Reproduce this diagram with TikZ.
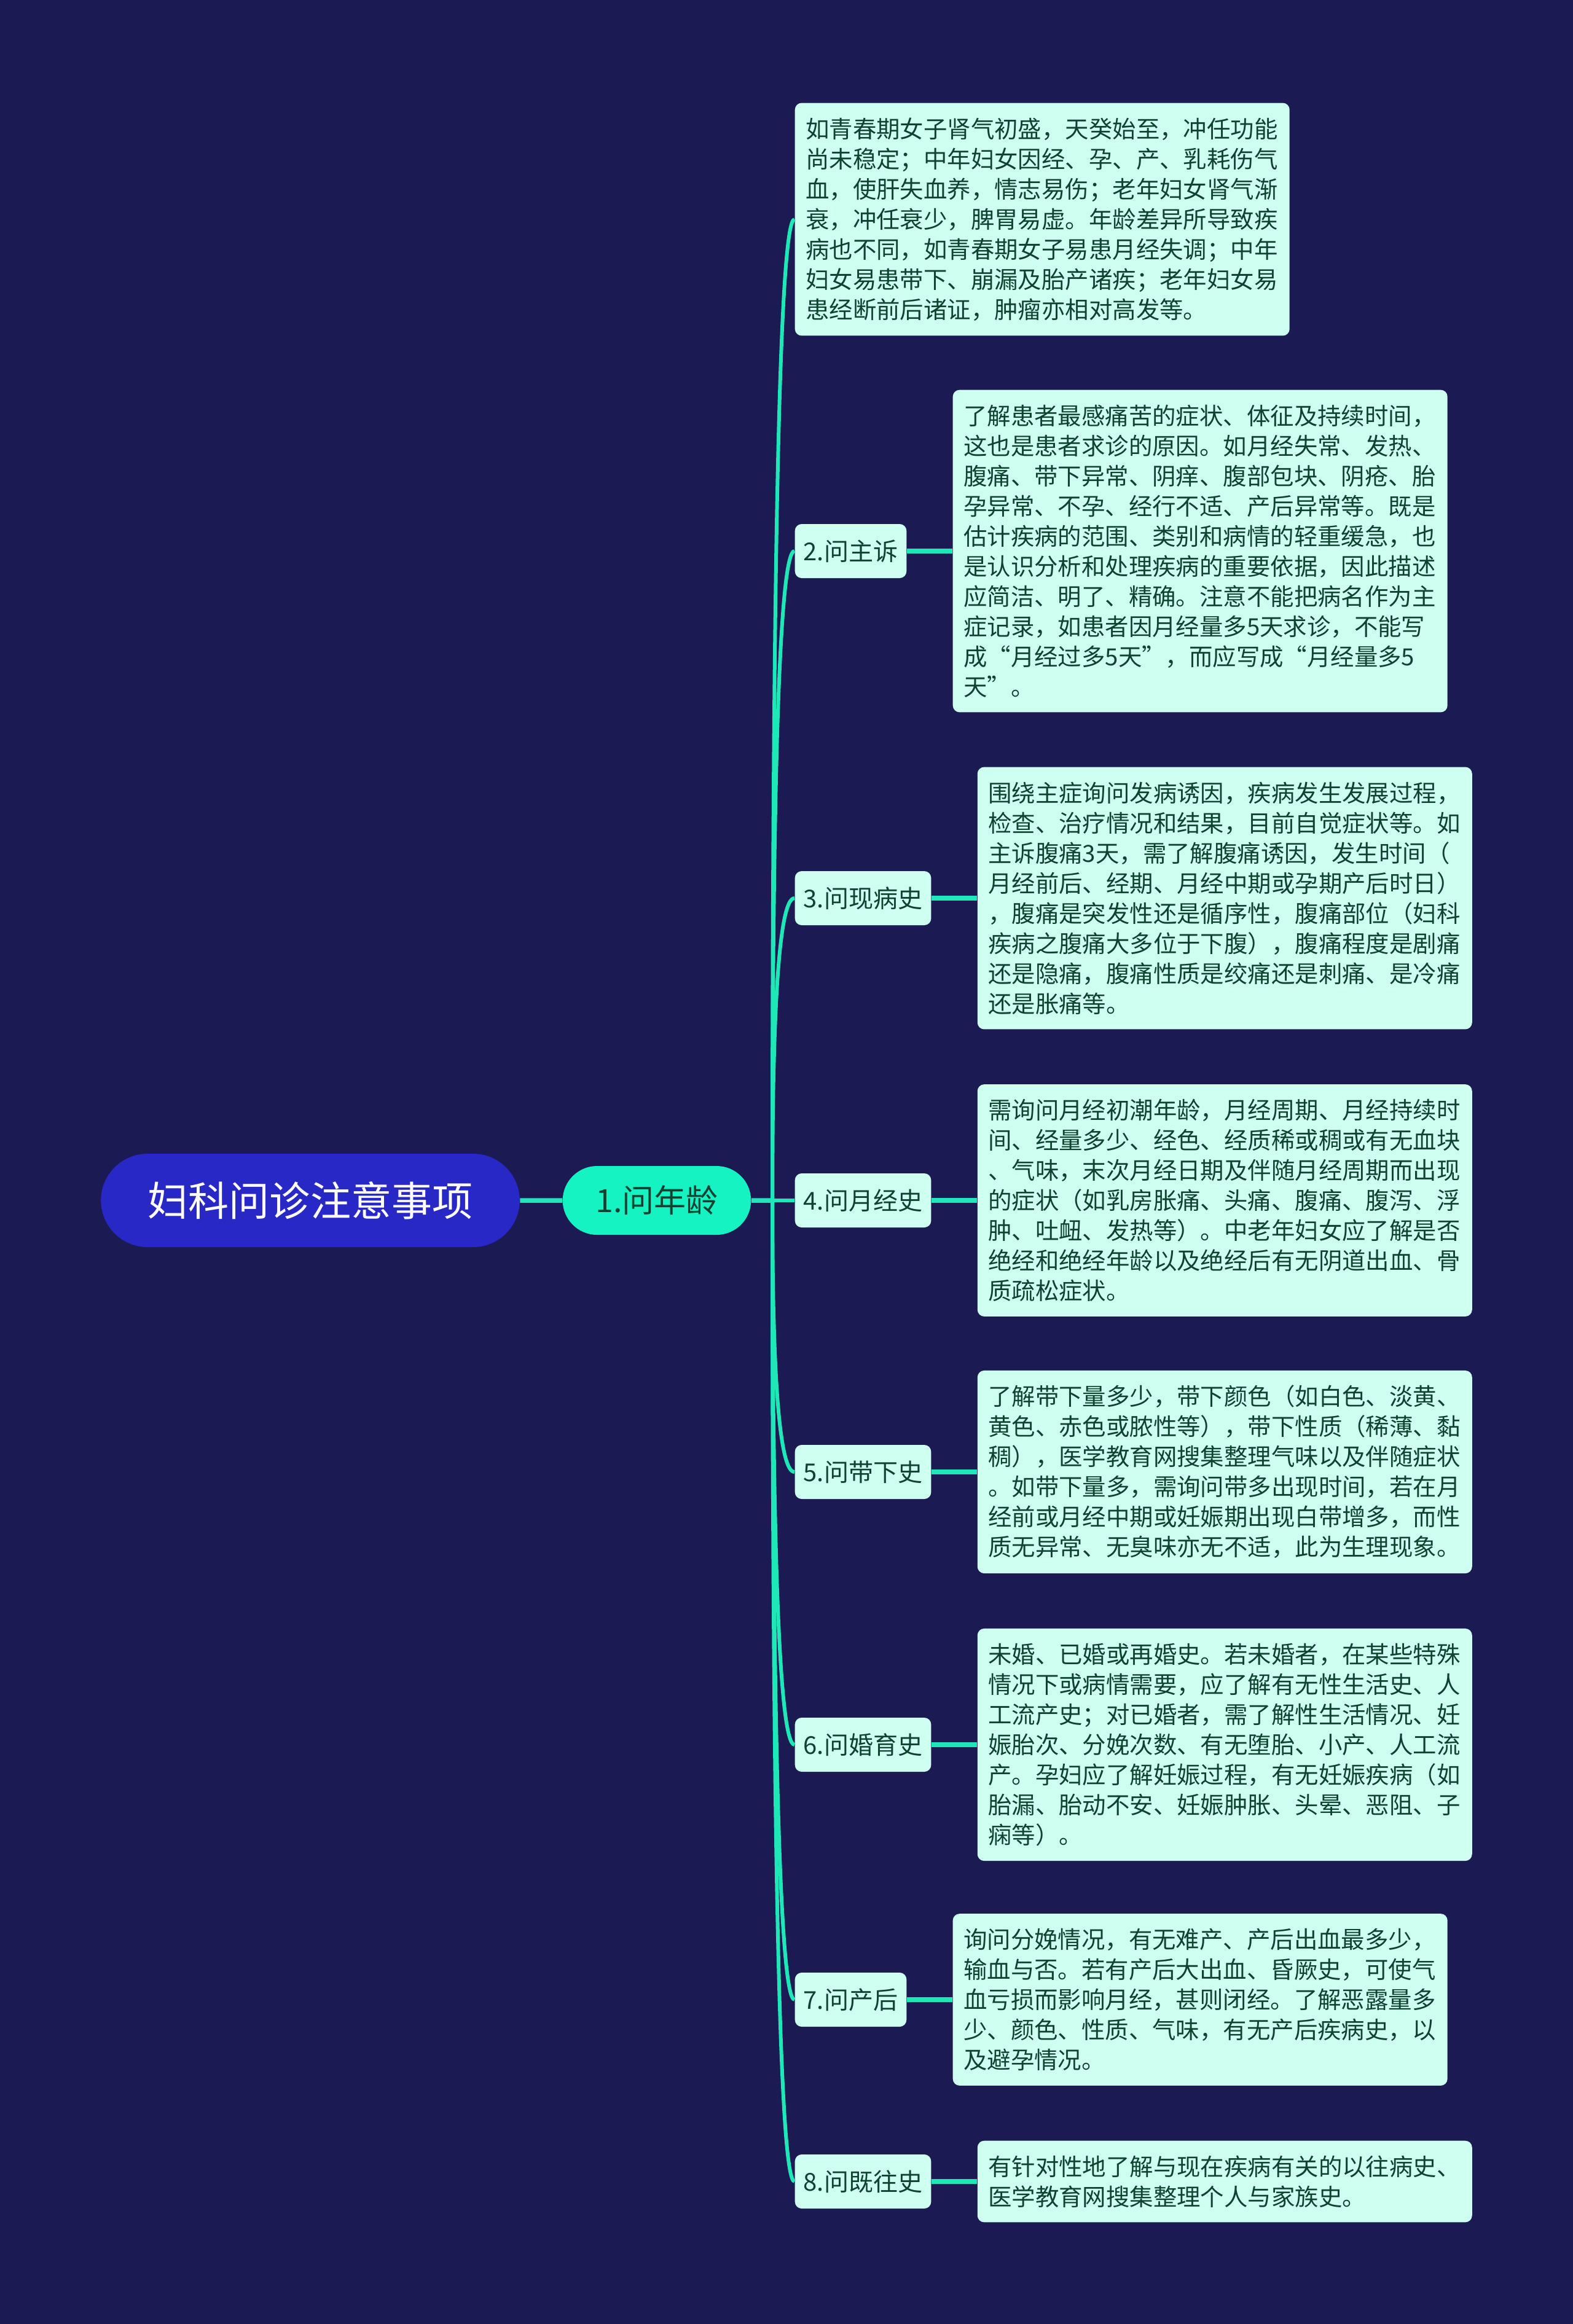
\documentclass[tikz,border=0pt]{standalone}
\usepackage{fontspec}
\setmainfont{Noto Sans CJK SC}
\usetikzlibrary{positioning,calc,shapes.misc}
\definecolor{NightSky}{RGB}{27,26,82}
\definecolor{RootBlue}{RGB}{40,40,198}
\definecolor{AquaLine}{RGB}{30,232,184}
\definecolor{AquaFill}{RGB}{22,243,194}
\definecolor{MintFill}{RGB}{206,255,240}
\definecolor{InkGreen}{RGB}{16,66,50}
\tikzset{
  rootbox/.style={rounded rectangle,fill=RootBlue,text=white,
                  minimum width=7.05cm,minimum height=1.52cm,
                  font=\fontsize{18.8}{22}\selectfont},
  agebox/.style={rounded rectangle,fill=AquaFill,text=InkGreen,
                 minimum width=3.3cm,minimum height=1.12cm,
                 font=\fontsize{14.8}{18}\selectfont},
  tagbox/.style={rectangle,rounded corners=0.11cm,fill=MintFill,text=InkGreen,
                 minimum height=0.88cm,inner xsep=0.14cm,
                 font=\fontsize{11.4}{14}\selectfont},
  notebox/.style={rectangle,rounded corners=0.11cm,fill=MintFill,text=InkGreen,
                  text width=7.70cm,align=left,inner xsep=0.175cm,inner ysep=0.24cm,
                  font=\fontsize{10.93}{13.95}\selectfont},
  trunk/.style={AquaLine,line width=0.075cm},
  bough/.style={AquaLine,line width=0.06cm},
}

\begin{document}
\begin{tikzpicture}[node distance=0.74cm]
\fill[NightSky] (0,0) rectangle (25.6,-37.83);

\node[rootbox] (root) at (5.05,-19.54) {妇科问诊注意事项};
\node[agebox] (age) at (10.69,-19.54) {1.问年龄};
\coordinate (hub) at (12.57,-19.54);

\node[notebox, anchor=west] (ageinfo) at (12.93,-3.57) {如青春期女子肾气初盛，天癸始至，冲任功能\\尚未稳定；中年妇女因经、孕、产、乳耗伤气\\血，使肝失血养，情志易伤；老年妇女肾气渐\\衰，冲任衰少，脾胃易虚。年龄差异所导致疾\\病也不同，如青春期女子易患月经失调；中年\\妇女易患带下、崩漏及胎产诸疾；老年妇女易\\患经断前后诸证，肿瘤亦相对高发等。};

\node[tagbox, anchor=west] (plaint) at (12.93,-8.97) {2.问主诉};
\node[notebox, right=of plaint] (plaintinfo) {了解患者最感痛苦的症状、体征及持续时间，\\这也是患者求诊的原因。如月经失常、发热、\\腹痛、带下异常、阴痒、腹部包块、阴疮、胎\\孕异常、不孕、经行不适、产后异常等。既是\\估计疾病的范围、类别和病情的轻重缓急，也\\是认识分析和处理疾病的重要依据，因此描述\\应简洁、明了、精确。注意不能把病名作为主\\症记录，如患者因月经量多5天求诊，不能写\\成“月经过多5天”，而应写成“月经量多5\\天”。};

\node[tagbox, anchor=west] (present) at (12.93,-14.62) {3.问现病史};
\node[notebox, right=of present] (presentinfo) {围绕主症询问发病诱因，疾病发生发展过程，\\检查、治疗情况和结果，目前自觉症状等。如\\主诉腹痛3天，需了解腹痛诱因，发生时间（\\月经前后、经期、月经中期或孕期产后时日）\\，腹痛是突发性还是循序性，腹痛部位（妇科\\疾病之腹痛大多位于下腹），腹痛程度是剧痛\\还是隐痛，腹痛性质是绞痛还是刺痛、是冷痛\\还是胀痛等。};

\node[tagbox, anchor=west] (menses) at (12.93,-19.54) {4.问月经史};
\node[notebox, right=of menses] (mensesinfo) {需询问月经初潮年龄，月经周期、月经持续时\\间、经量多少、经色、经质稀或稠或有无血块\\、气味，末次月经日期及伴随月经周期而出现\\的症状（如乳房胀痛、头痛、腹痛、腹泻、浮\\肿、吐衄、发热等）。中老年妇女应了解是否\\绝经和绝经年龄以及绝经后有无阴道出血、骨\\质疏松症状。};

\node[tagbox, anchor=west] (leuko) at (12.93,-23.96) {5.问带下史};
\node[notebox, right=of leuko] (leukoinfo) {了解带下量多少，带下颜色（如白色、淡黄、\\黄色、赤色或脓性等），带下性质（稀薄、黏\\稠），医学教育网搜集整理气味以及伴随症状\\。如带下量多，需询问带多出现时间，若在月\\经前或月经中期或妊娠期出现白带增多，而性\\质无异常、无臭味亦无不适，此为生理现象。};

\node[tagbox, anchor=west] (marriage) at (12.93,-28.40) {6.问婚育史};
\node[notebox, right=of marriage] (marriageinfo) {未婚、已婚或再婚史。若未婚者，在某些特殊\\情况下或病情需要，应了解有无性生活史、人\\工流产史；对已婚者，需了解性生活情况、妊\\娠胎次、分娩次数、有无堕胎、小产、人工流\\产。孕妇应了解妊娠过程，有无妊娠疾病（如\\胎漏、胎动不安、妊娠肿胀、头晕、恶阻、子\\痫等）。};

\node[tagbox, anchor=west] (postpartum) at (12.93,-32.55) {7.问产后};
\node[notebox, right=of postpartum] (postpartuminfo) {询问分娩情况，有无难产、产后出血最多少，\\输血与否。若有产后大出血、昏厥史，可使气\\血亏损而影响月经，甚则闭经。了解恶露量多\\少、颜色、性质、气味，有无产后疾病史，以\\及避孕情况。};

\node[tagbox, anchor=west] (past) at (12.93,-35.51) {8.问既往史};
\node[notebox, right=of past] (pastinfo) {有针对性地了解与现在疾病有关的以往病史、\\医学教育网搜集整理个人与家族史。};

% trunk from the root to the hub
\draw[trunk] (root) -- (age);
\draw[trunk] (age) -- (hub);

% curved boughs from the hub
\draw[bough] (hub) .. controls ($(hub)!0.667!(hub|-ageinfo.west)$) and ($(ageinfo.west)!0.667!(hub|-ageinfo.west)$) .. (ageinfo.west);
\draw[bough] (hub) .. controls ($(hub)!0.667!(hub|-plaint.west)$) and ($(plaint.west)!0.667!(hub|-plaint.west)$) .. (plaint.west);
\draw[bough] (hub) .. controls ($(hub)!0.667!(hub|-present.west)$) and ($(present.west)!0.667!(hub|-present.west)$) .. (present.west);
\draw[bough] (hub) -- (menses.west);
\draw[bough] (hub) .. controls ($(hub)!0.667!(hub|-leuko.west)$) and ($(leuko.west)!0.667!(hub|-leuko.west)$) .. (leuko.west);
\draw[bough] (hub) .. controls ($(hub)!0.667!(hub|-marriage.west)$) and ($(marriage.west)!0.667!(hub|-marriage.west)$) .. (marriage.west);
\draw[bough] (hub) .. controls ($(hub)!0.667!(hub|-postpartum.west)$) and ($(postpartum.west)!0.667!(hub|-postpartum.west)$) .. (postpartum.west);
\draw[bough] (hub) .. controls ($(hub)!0.667!(hub|-past.west)$) and ($(past.west)!0.667!(hub|-past.west)$) .. (past.west);

% labels to their notes
\draw[trunk] (plaint) -- (plaintinfo);
\draw[trunk] (present) -- (presentinfo);
\draw[trunk] (menses) -- (mensesinfo);
\draw[trunk] (leuko) -- (leukoinfo);
\draw[trunk] (marriage) -- (marriageinfo);
\draw[trunk] (postpartum) -- (postpartuminfo);
\draw[trunk] (past) -- (pastinfo);
\end{tikzpicture}
\end{document}
